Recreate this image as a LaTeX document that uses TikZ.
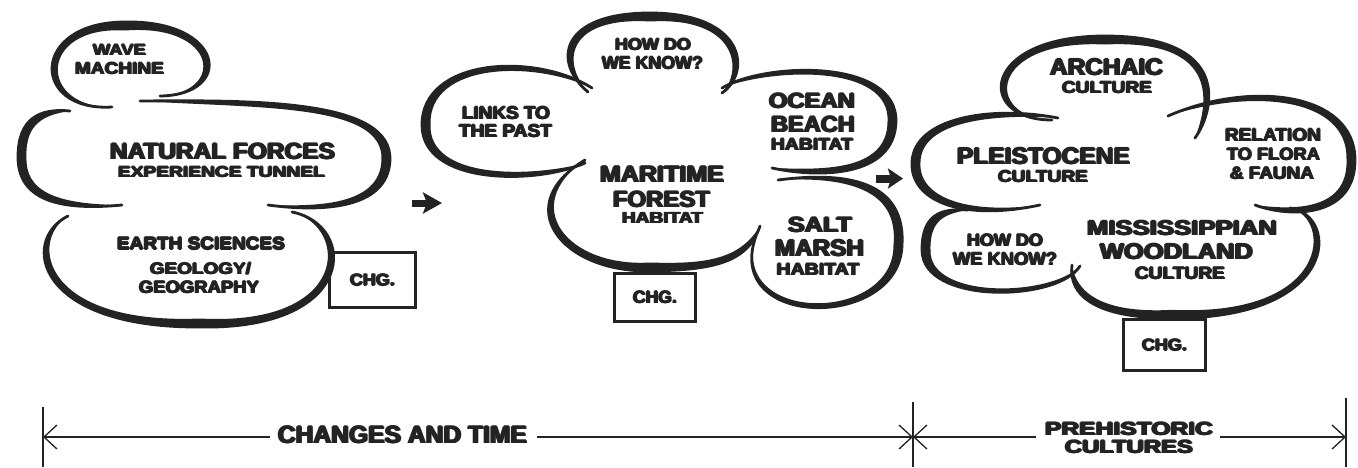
\documentclass[tikz,border=0pt]{standalone}
\usepackage{fontspec}
\usepackage{graphicx}
\usetikzlibrary{calc,arrows.meta}
\newfontfamily\heavy{Liberation Sans Bold}
\definecolor{ink}{HTML}{232323}
% extra-heavy lettering: the word set five times with small offsets
\newcommand\heavier[1]{\leavevmode
  \rlap{\hspace{0.045em}#1}\rlap{\hspace{-0.045em}#1}%
  \rlap{\raisebox{0.03em}{#1}}\rlap{\raisebox{-0.03em}{#1}}#1}
% caption text scaled to a given width and cap height (in pt)
\newcommand\hv[3]{\resizebox{#1pt}{#2pt}{\heavy\heavier{#3}}}
% brush width of a cloud lobe at its middle
\def\bw{8.5pt}
% a lobe: two cubic pieces S-C1-C2-M-C3-C4-E, #8 is the lobe centre
\newcommand\lobewhite[8]{%
  \fill[white] (#1) .. controls (#2) and (#3) .. (#4) .. controls (#5) and (#6) .. (#7) -- cycle;}
\newcommand\lobeink[8]{%
  \fill[ink] (#1) .. controls (#2) and (#3) .. (#4) .. controls (#5) and (#6) .. (#7)
    .. controls ($(#6)!\bw!(#8)$) and ($(#5)!\bw!(#8)$) .. ($(#4)!\bw!(#8)$)
    .. controls ($(#3)!\bw!(#8)$) and ($(#2)!\bw!(#8)$) .. (#1) -- cycle;
  \draw[ink, line width=2.8pt, line cap=round] (#1) .. controls (#2) and (#3) .. (#4) .. controls (#5) and (#6) .. (#7);}
% natural forces cloud
\newcommand\cloudforces[1]{%
  #1{112,107}{30,112}{30,22}{125,22}{225,20}{235,95}{160,96}{125,62}%
  #1{140,101}{260,100}{392,100}{390,160}{388,210}{320,212}{268,205}{260,157}%
  #1{292,212}{358,225}{358,330}{200,327}{35,328}{20,240}{68,216}{200,265}%
  #1{122,205}{50,212}{18,195}{18,157}{18,118}{40,108}{70,111}{80,157}}
% maritime forest cloud
\newcommand\cloudforest[1]{%
  #1{585,163}{535,185}{422,185}{422,125}{422,58}{535,52}{592,88}{500,122}%
  #1{588,92}{552,62}{560,13}{650,13}{745,13}{752,72}{722,93}{652,55}%
  #1{722,88}{765,62}{898,58}{896,122}{894,178}{818,178}{772,168}{815,120}%
  #1{778,180}{870,168}{905,195}{902,245}{900,330}{722,330}{756,236}{825,245}%
  #1{760,226}{748,262}{715,270}{650,271}{560,272}{510,205}{585,160}{650,215}}
% prehistoric cultures cloud
\newcommand\cloudcultures[1]{%
  #1{1040,205}{960,222}{910,200}{912,162}{914,118}{990,105}{1058,118}{1000,160}%
  #1{1052,120}{975,120}{980,36}{1105,36}{1232,36}{1215,110}{1195,138}{1105,80}%
  #1{1168,116}{1250,80}{1355,92}{1355,160}{1355,218}{1290,218}{1255,205}{1280,158}%
  #1{1290,208}{1340,215}{1340,320}{1170,318}{1095,318}{1068,295}{1072,265}{1185,265}%
  #1{1080,266}{1058,302}{922,305}{922,250}{922,215}{940,208}{968,210}{990,250}}
\begin{document}
\begin{tikzpicture}[x=1pt,y=-1pt,
  lbl/.style={inner sep=0pt, anchor=base, text=ink},
  chgbox/.style={draw=ink, line width=3pt, inner sep=0pt, text=ink},
  rule/.style={draw=ink, line width=1.3pt},
  >={Straight Barb[length=13pt,width=24pt]},
  blockarrow/.style={ink, line width=#1}]
\useasboundingbox (0,0) rectangle (1358,467);

% change boxes sit behind the clouds
\node[chgbox, minimum width=86pt, minimum height=55pt] (chg1) at (372.5,280) {\hv{45}{12}{CHG.}};
\node[chgbox, minimum width=81pt, minimum height=48pt] (chg2) at (655,297.5) {\hv{44}{12.5}{CHG.}};
\node[chgbox, minimum width=82pt, minimum height=51pt] (chg3) at (1164.5,345) {\hv{45}{12}{CHG.}};

% clouds: paper first, then brush strokes
\cloudforces\lobewhite
\cloudforest\lobewhite
\cloudcultures\lobewhite
\cloudforces\lobeink
\cloudforest\lobeink
\cloudcultures\lobeink

% natural forces
\node[lbl] (wave) at (119.5,55) {\hv{53}{11}{WAVE}};
\node[lbl] (machine) at (119.5,74) {\hv{89}{12}{MACHINE}};
\node[lbl] (natural) at (222.5,159) {\hv{225}{16.5}{NATURAL FORCES}};
\node[lbl] (tunnel) at (221.5,177) {\hv{207}{11}{EXPERIENCE TUNNEL}};
\node[lbl] (earth) at (201,249.5) {\hv{168}{12.5}{EARTH SCIENCES}};
\node[lbl] (geology) at (200.5,274) {\hv{101}{12}{GEOLOGY/}};
\node[lbl] (geography) at (199,293) {\hv{120}{12.5}{GEOGRAPHY}};

% maritime forest
\node[lbl] (howdoA) at (653,50) {\hv{76}{12}{HOW DO}};
\node[lbl] (knowA) at (652.5,69) {\hv{101}{13}{WE KNOW?}};
\node[lbl] (links) at (506,119) {\hv{88}{13}{LINKS TO}};
\node[lbl] (past) at (505.5,137) {\hv{93}{13}{THE PAST}};
\node[lbl] (ocean) at (812,108) {\hv{86}{15.5}{OCEAN}};
\node[lbl] (beach) at (813,132) {\hv{84}{16.5}{BEACH}};
\node[lbl] (habA) at (812,150) {\hv{82}{12}{HABITAT}};
\node[lbl] (maritime) at (662,182) {\hv{124}{16.5}{MARITIME}};
\node[lbl] (forest) at (661.5,207) {\hv{97}{16.5}{FOREST}};
\node[lbl] (habB) at (662.5,223.5) {\hv{81}{11.5}{HABITAT}};
\node[lbl] (salt) at (820,232) {\hv{64}{15.5}{SALT}};
\node[lbl] (marsh) at (819.5,256) {\hv{89}{17}{MARSH}};
\node[lbl] (habC) at (818,275) {\hv{83}{12}{HABITAT}};

% prehistoric cultures
\node[lbl] (archaic) at (1106.5,75) {\hv{113}{17}{ARCHAIC}};
\node[lbl] (cultA) at (1107,93) {\hv{90}{12}{CULTURE}};
\node[lbl] (pleist) at (1043.5,164) {\hv{173}{17}{PLEISTOCENE}};
\node[lbl] (cultB) at (1043,182) {\hv{90}{12}{CULTURE}};
\node[lbl] (relation) at (1273,141) {\hv{96}{13}{RELATION}};
\node[lbl] (flora) at (1273.5,160) {\hv{93}{12.5}{TO FLORA}};
\node[lbl] (fauna) at (1272,179) {\hv{84}{12.5}{\& FAUNA}};
\node[lbl] (howdoB) at (1005,246) {\hv{76}{12.5}{HOW DO}};
\node[lbl] (knowB) at (1005,265) {\hv{104}{13}{WE KNOW?}};
\node[lbl] (miss) at (1182,235) {\hv{190}{15}{MISSISSIPPIAN}};
\node[lbl] (woodland) at (1176.5,259) {\hv{153}{16}{WOODLAND}};
\node[lbl] (cultC) at (1180,279) {\hv{90}{12.5}{CULTURE}};

% arrows between the clouds
\coordinate (a1s) at (412,203);
\coordinate (a1e) at (442,203);
\coordinate (a2s) at (876,178.5);
\coordinate (a2e) at (903,178.5);
\draw[blockarrow=7pt, -{Stealth[length=19pt,width=21pt,inset=4pt]}] (a1s) -- (a1e);
\draw[blockarrow=8pt, -{Stealth[length=15pt,width=20pt,inset=3pt]}] (a2s) -- (a2e);

% time line
\coordinate (tl) at (43,437);
\coordinate (tm) at (913,437);
\coordinate (tr) at (1346,437);
\coordinate (tlt) at (43,407);
\coordinate (tlb) at (43,467);
\coordinate (tmt) at (913,402);
\coordinate (tmb) at (913,467);
\coordinate (trt) at (1346,398);
\coordinate (trb) at (1346,467);
\node[lbl] (changes) at (402.5,443) {\hv{249}{17.7}{CHANGES AND TIME}};
\node[lbl] (prehist) at (1129,435) {\hv{168}{13.3}{PREHISTORIC}};
\node[lbl] (cultures) at (1129,453) {\hv{128}{13.3}{CULTURES}};
\coordinate (ga) at (270,437);
\coordinate (gb) at (537,437);
\coordinate (gc) at (1036,437);
\coordinate (gd) at (1220,437);
\draw[rule] (tlt) -- (tlb);
\draw[rule] (tmt) -- (tmb);
\draw[rule] (trt) -- (trb);
\draw[rule, <-] (tl) -- (ga);
\draw[rule, ->] (gb) -- (tm);
\draw[rule, <-] (tm) -- (gc);
\draw[rule, ->] (gd) -- (tr);
\end{tikzpicture}
\end{document}
